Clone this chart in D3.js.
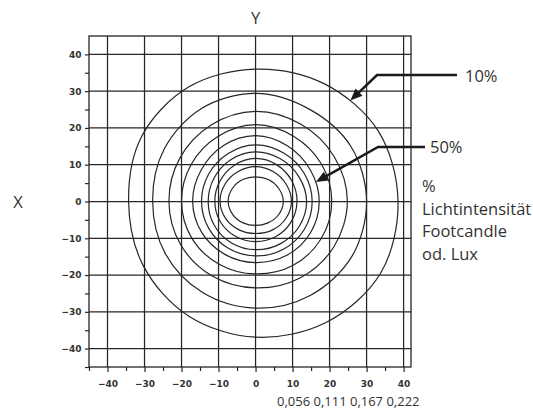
<!DOCTYPE html>
<html><head><meta charset="utf-8">
<script src="https://cdn.jsdelivr.net/npm/d3@7"></script>
<style>body{margin:0;background:#fff} svg{display:block}</style>
</head><body><svg id="c" width="533" height="409"></svg>
<script>
// ---- data ----
const gridTicks = [-40, -30, -20, -10, 0, 10, 20, 30, 40];
const minorTicks = [-45, -35, -25, -15, -5, 5, 15, 25, 35];
const ringAngles = [0, 30, 60, 90, 120, 150, 180, 210, 240, 270, 300, 330];
const ring10  = [38.5, 38.3, 37.0, 36.0, 36.0, 35.5, 34.3, 35.0, 36.0, 36.9, 38.0, 39.0];
const ring20  = [30.0, 29.8, 29.0, 29.4, 29.2, 28.5, 27.8, 28.2, 28.6, 29.0, 29.5, 30.0];
const ring30  = [24.8, 24.5, 24.3, 24.5, 24.0, 23.6, 23.4, 23.4, 23.4, 23.5, 24.0, 24.5];
const ring40  = [20.6, 20.5, 20.5, 20.9, 20.4, 20.1, 20.0, 19.9, 19.7, 19.7, 20.1, 20.4];
const ring50  = [17.2, 17.1, 17.4, 17.9, 17.5, 17.0, 17.0, 16.8, 16.6, 16.6, 16.9, 17.1];
const ring60  = [15.3, 15.2, 15.2, 15.4, 15.0, 14.7, 14.6, 14.6, 14.7, 14.8, 15.0, 15.2];
const ring70  = [13.8, 13.5, 13.4, 13.5, 13.2, 12.9, 12.8, 12.9, 13.0, 13.1, 13.3, 13.6];
const ring80  = [11.2, 11.3, 11.5, 11.7, 11.4, 11.1, 11.0, 11.0, 10.9, 10.9, 11.0, 11.1];
const ring90  = [9.7, 9.5, 9.4, 9.5, 9.4, 9.5, 9.6, 9.3, 8.9, 8.7, 9.0, 9.4];
const ring100 = [7.5, 7.2, 6.9, 6.7, 6.9, 7.2, 7.4, 7.1, 6.7, 6.5, 6.7, 7.2];
const ringLevels = [10, 20, 30, 40, 50, 60, 70, 80, 90, 100];
const rings = [ring10, ring20, ring30, ring40, ring50, ring60, ring70, ring80, ring90, ring100];
const arrowLabels = ["10%", "50%"];
const arrowLevels = [10, 50];
const arrowAngles = [47, 18];
const luxLabels = ["0,056", "0,111", "0,167", "0,222"];
const legendLines = ["%", "Lichtintensität", "Footcandle", "od. Lux"];
const axisNames = ["X", "Y"];

// ---- layout ----
const svg = d3.select("#c");
const x = d3.scaleLinear().domain([-45, 42]).range([89, 411]);
const y = d3.scaleLinear().domain([-45, 45]).range([367, 36]);
const ink = "#262626";
const txt = "#333";
const fs = 16.5;

// grid
const grid = svg.append("g").attr("stroke", ink).attr("stroke-width", 1.25);
gridTicks.forEach(v => {
  grid.append("line").attr("x1", x(-45)).attr("x2", x(42)).attr("y1", y(v)).attr("y2", y(v));
  grid.append("line").attr("x1", x(v)).attr("x2", x(v)).attr("y1", y(-45)).attr("y2", y(45));
});
svg.append("rect").attr("x", x(-45)).attr("y", y(45))
  .attr("width", x(42) - x(-45)).attr("height", y(-45) - y(45))
  .attr("fill", "none").attr("stroke", ink).attr("stroke-width", 1.3);

// axes
function styleAxis(g) {
  g.select(".domain").remove();
  g.selectAll(".tick line").attr("stroke", ink).attr("stroke-width", 1.2);
  g.selectAll("text").attr("font-family", "DejaVu Sans").attr("font-weight", "bold")
    .attr("font-size", 9).attr("fill", txt);
}
svg.append("g").attr("transform", `translate(0,${y(-45)})`)
  .call(d3.axisBottom(x).tickValues(gridTicks).tickSize(5).tickPadding(8.5))
  .call(styleAxis);
svg.append("g").attr("transform", `translate(0,${y(-45)})`)
  .call(d3.axisBottom(x).tickValues(minorTicks).tickSize(4).tickFormat(""))
  .call(styleAxis);
svg.append("g").attr("transform", `translate(${x(-45)},0)`)
  .call(d3.axisLeft(y).tickValues(gridTicks).tickSize(4).tickPadding(3.5))
  .call(styleAxis);
svg.append("g").attr("transform", `translate(${x(-45)},0)`)
  .call(d3.axisLeft(y).tickValues(minorTicks).tickSize(4).tickFormat(""))
  .call(styleAxis);

// contours
const toPts = r => r.map((v, i) => {
  const a = ringAngles[i] * Math.PI / 180;
  return [v * Math.cos(a), v * Math.sin(a)];
});
const line = d3.line().x(d => x(d[0])).y(d => y(d[1])).curve(d3.curveCatmullRomClosed.alpha(0.5));
svg.append("g").selectAll("path").data(rings).join("path")
  .attr("d", r => line(toPts(r)))
  .attr("fill", "none").attr("stroke", ink).attr("stroke-width", 1.2);

// arrows
function radiusAt(r, ang) {
  const i = Math.floor(ang / 30) % 12, j = (i + 1) % 12;
  const t = (ang - ringAngles[i]) / 30;
  return r[i] * (1 - t) + r[j] * t;
}
const elbowX = [377, 378];
const elbowY = [75, 147];
const lineEnd = [457, 425];
const labelX = [465, 430];
const labelBase = [82, 153];
arrowLabels.forEach((lab, k) => {
  const r = rings[ringLevels.indexOf(arrowLevels[k])];
  const a = arrowAngles[k] * Math.PI / 180;
  const rr = radiusAt(r, arrowAngles[k]);
  const tx = x(rr * Math.cos(a)), ty = y(rr * Math.sin(a));
  const dx = tx - elbowX[k], dy = ty - elbowY[k], L = Math.hypot(dx, dy);
  const ux = dx / L, uy = dy / L;
  const hl = 12, hw = 5;
  const bx = tx - ux * hl, by = ty - uy * hl;
  svg.append("path")
    .attr("d", `M${lineEnd[k]},${elbowY[k]}L${elbowX[k]},${elbowY[k]}L${bx + ux * 2},${by + uy * 2}`)
    .attr("fill", "none").attr("stroke", "#1a1a1a").attr("stroke-width", 2.5);
  svg.append("path")
    .attr("d", `M${tx},${ty}L${bx - uy * hw},${by + ux * hw}L${bx + uy * hw},${by - ux * hw}Z`)
    .attr("fill", "#1a1a1a");
  svg.append("text").attr("x", labelX[k]).attr("y", labelBase[k]).text(lab)
    .attr("font-family", "Open Sans").attr("font-size", fs).attr("fill", txt);
});

// legend text
svg.append("g").selectAll("text").data(legendLines).join("text")
  .attr("x", 422).attr("y", (d, i) => 192 + i * 22.5).text(d => d)
  .attr("font-family", "Open Sans").attr("font-size", fs).attr("fill", txt);

// axis names
svg.append("text").attr("x", 18).attr("y", 208).attr("text-anchor", "middle").text(axisNames[0])
  .attr("font-family", "Open Sans").attr("font-size", fs).attr("fill", txt);
svg.append("text").attr("x", x(0)).attr("y", 24).attr("text-anchor", "middle").text(axisNames[1])
  .attr("font-family", "Open Sans").attr("font-size", fs).attr("fill", txt);

// lux values
svg.append("text").attr("x", 277).attr("y", 406).text(luxLabels.join(" "))
  .attr("font-family", "Open Sans").attr("font-size", 13).attr("fill", txt);
</script></body></html>
